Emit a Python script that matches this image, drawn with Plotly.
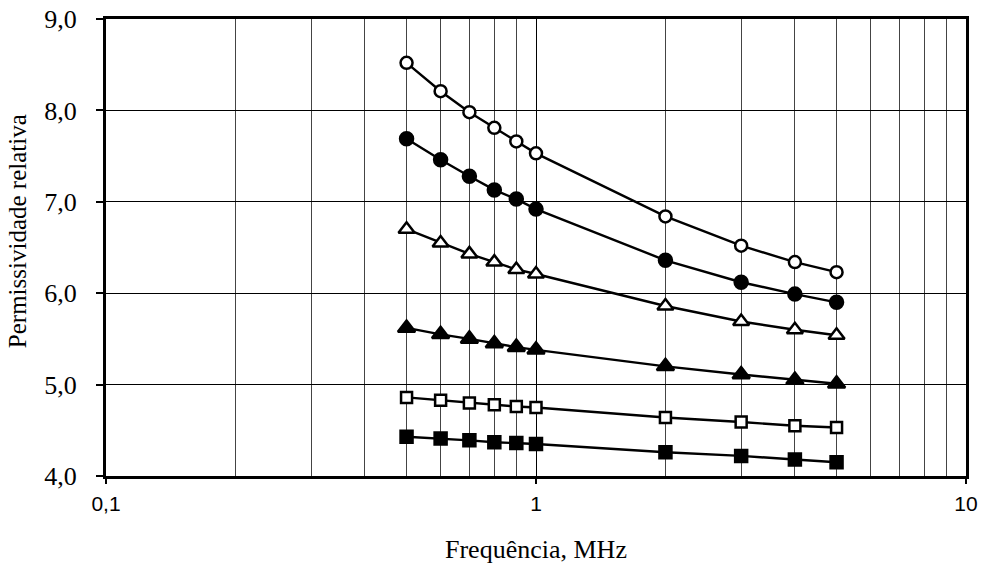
import plotly.graph_objects as go

freq = [0.5, 0.6, 0.7, 0.8, 0.9, 1, 2, 3, 4, 5]
s_open_circle = [8.52, 8.21, 7.98, 7.81, 7.66, 7.53, 6.84, 6.52, 6.34, 6.23]
s_filled_circle = [7.69, 7.46, 7.28, 7.13, 7.03, 6.92, 6.36, 6.12, 5.99, 5.90]
s_open_triangle = [6.70, 6.55, 6.43, 6.34, 6.26, 6.21, 5.86, 5.69, 5.60, 5.54]
s_filled_triangle = [5.62, 5.55, 5.50, 5.45, 5.41, 5.38, 5.20, 5.11, 5.05, 5.01]
s_open_square = [4.86, 4.83, 4.80, 4.78, 4.76, 4.75, 4.64, 4.59, 4.55, 4.53]
s_filled_square = [4.43, 4.41, 4.39, 4.37, 4.36, 4.35, 4.26, 4.22, 4.18, 4.15]

x_tickvals = [0.1, 1, 10]
x_ticktext = ["0,1", "1", "10"]
x_title = "Frequência, MHz"
y_title = "Permissividade relativa"

series = [
    (s_open_circle, "circle", "white", 12),
    (s_filled_circle, "circle", "black", 13),
    (s_open_triangle, "triangle-up", "white", 14),
    (s_filled_triangle, "triangle-up", "black", 15),
    (s_open_square, "square", "white", 11),
    (s_filled_square, "square", "black", 12),
]

fig = go.Figure()
for vals, sym, fill, size in series:
    fig.add_trace(go.Scatter(
        x=freq, y=vals, mode="lines+markers",
        line=dict(color="black", width=2.4),
        marker=dict(symbol=sym, size=size, color=fill,
                    line=dict(color="black", width=2.5)),
        showlegend=False,
    ))

fig.update_layout(
    width=982, height=567,
    margin=dict(l=106, r=16, t=19, b=91, autoexpand=False),
    plot_bgcolor="white", paper_bgcolor="white",
    separators=",.",
    font=dict(family="Liberation Serif", color="black"),
)
fig.update_xaxes(
    type="log", range=[-1, 1],
    tickvals=x_tickvals, ticktext=x_ticktext,
    tickfont=dict(family="Liberation Sans", size=21),
    ticks="outside", ticklen=5, tickcolor="black", tickwidth=2,
    ticklabelstandoff=2,
    showgrid=True, gridcolor="black", gridwidth=1,
    minor=dict(dtick="D1", showgrid=True, gridcolor="#444444", gridwidth=1, ticks=""),
    showline=True, linecolor="black", linewidth=3, mirror=True,
    zeroline=False,
)
fig.update_yaxes(
    range=[4, 9], dtick=1, tickformat=".1f",
    tickfont=dict(family="Liberation Serif", size=26),
    ticks="outside", ticklen=7, tickcolor="black", tickwidth=2,
    ticklabelstandoff=14,
    showgrid=True, gridcolor="black", gridwidth=1,
    showline=True, linecolor="black", linewidth=3, mirror=True,
    zeroline=False,
)

fig.add_annotation(
    text=x_title, xref="paper", yref="paper", x=0.5, y=-0.16,
    xanchor="center", yanchor="middle", showarrow=False,
    font=dict(family="Liberation Serif", size=26, color="black"),
)
fig.add_annotation(
    text=y_title, xref="paper", yref="paper", x=-0.102, y=0.276,
    xanchor="center", yanchor="bottom", textangle=-90, showarrow=False,
    font=dict(family="Liberation Serif", size=25, color="black"),
)

fig.write_html("out.html", config={"displayModeBar": False})

with open("out.html", "r", encoding="utf-8") as f:
    html = f.read()
html = html.replace("<head>", "<head><style>html,body{margin:0;padding:0;overflow:hidden;}</style>", 1)
with open("out.html", "w", encoding="utf-8") as f:
    f.write(html)
